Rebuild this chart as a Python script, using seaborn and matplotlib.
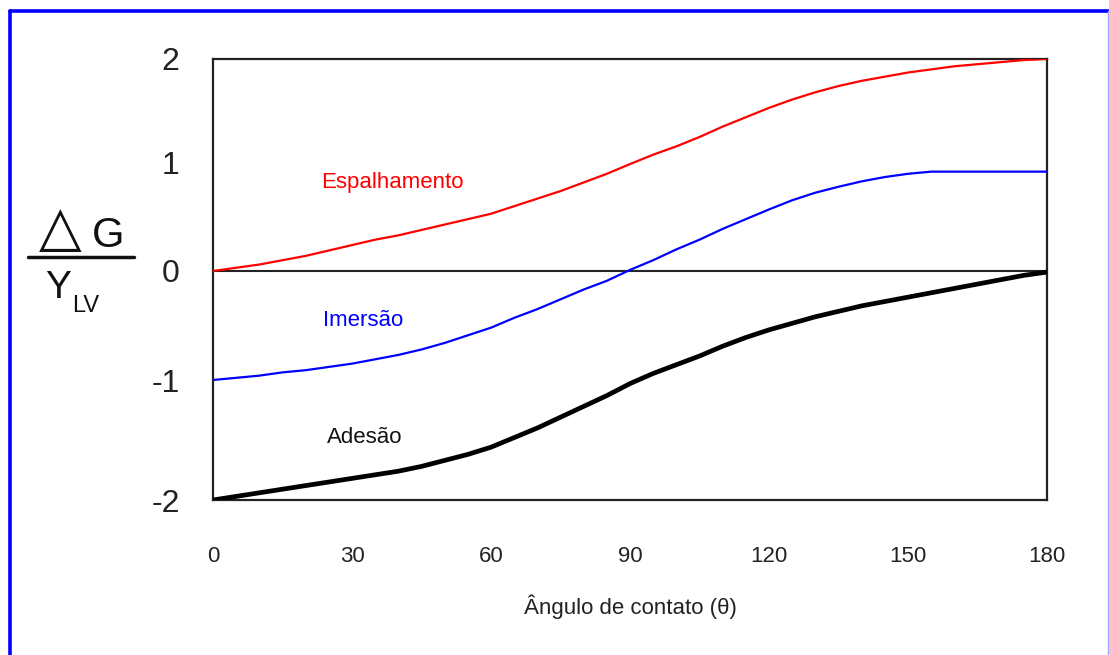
import numpy as np
import pandas as pd
import matplotlib
matplotlib.use("Agg")
import matplotlib.pyplot as plt
import seaborn as sns
from matplotlib.lines import Line2D

# ---- data ----
theta = [0, 5, 10, 15, 20, 25, 30, 35, 40, 45, 50, 55, 60, 65, 70, 75, 80, 85, 90,
         95, 100, 105, 110, 115, 120, 125, 130, 135, 140, 145, 150, 155, 160, 165, 170, 175, 180]
espalhamento = [0.0, 0.03, 0.06, 0.10, 0.14, 0.19, 0.24, 0.29, 0.33, 0.38, 0.43, 0.48, 0.53,
                0.60, 0.67, 0.74, 0.82, 0.90, 0.99, 1.08, 1.16, 1.25, 1.35, 1.44, 1.53,
                1.61, 1.68, 1.74, 1.79, 1.83, 1.87, 1.90, 1.93, 1.95, 1.97, 1.99, 2.0]
imersao = [-1.0, -0.98, -0.96, -0.93, -0.91, -0.88, -0.85, -0.81, -0.77, -0.72, -0.66, -0.59, -0.52,
           -0.43, -0.35, -0.26, -0.17, -0.09, 0.01, 0.10, 0.20, 0.29, 0.39, 0.48, 0.57,
           0.655, 0.725, 0.78, 0.83, 0.87, 0.90, 0.92, 0.92, 0.92, 0.92, 0.92, 0.92]
adesao = [-2.0, -1.97, -1.94, -1.91, -1.88, -1.85, -1.82, -1.79, -1.76, -1.72, -1.67, -1.62, -1.56,
          -1.48, -1.40, -1.31, -1.22, -1.13, -1.03, -0.94, -0.86, -0.78, -0.69, -0.61, -0.54,
          -0.48, -0.42, -0.37, -0.32, -0.28, -0.24, -0.20, -0.16, -0.12, -0.08, -0.04, -0.01]
x_ticks = [0, 30, 60, 90, 120, 150, 180]
y_ticks = [-2, -1, 0, 1, 2]
series_names = ["Espalhamento", "Imersão", "Adesão"]

# the reference's value axis is slightly uneven between ticks: reproduce it with a function scale
YV = np.array([-2.0, -1.0, 0.0, 1.0, 2.0])
YP = np.array([0.0, 120.0, 229.0, 337.0, 441.0])


def _pw(v, a, b):
    v = np.asarray(v, dtype=float)
    out = np.interp(v, a, b)
    lo = b[0] + (v - a[0]) * (b[1] - b[0]) / (a[1] - a[0])
    hi = b[-1] + (v - a[-1]) * (b[-1] - b[-2]) / (a[-1] - a[-2])
    out = np.where(v < a[0], lo, out)
    out = np.where(v > a[-1], hi, out)
    return out


def fwd(v):
    return _pw(v, YV, YP)


def inv(p):
    return _pw(p, YP, YV)


sns.set_style("white")
plt.rcParams['font.family'] = ['Liberation Sans', 'DejaVu Sans']

W, H = 1109, 655
fig = plt.figure(figsize=(W / 100, H / 100), dpi=100)
ax = fig.add_axes([213 / W, 1 - 500 / H, (1047 - 213) / W, (500 - 59) / H])
ax.set_yscale("function", functions=(fwd, inv))

ax.axhline(0, color="#222222", lw=1.5, zorder=1)
sns.lineplot(x=theta, y=espalhamento, ax=ax, color="#ff0000", lw=1.6, zorder=3)
sns.lineplot(x=theta, y=imersao, ax=ax, color="#0000ff", lw=1.6, zorder=3)
sns.lineplot(x=theta, y=adesao, ax=ax, color="#000000", lw=3.4, zorder=3)

ax.set_xlim(0, 180)
ax.set_ylim(-2, 2)
ax.set_xticks(x_ticks)
ax.set_yticks(y_ticks)
ax.yaxis.set_minor_locator(matplotlib.ticker.NullLocator())
ax.set_xticklabels([str(v) for v in x_ticks], fontsize=16)
ax.set_yticklabels([str(v) for v in y_ticks], fontsize=23)
ax.tick_params(axis="x", direction="out", length=6, width=1.2, pad=27, colors="#222222", labelcolor="#222222")
ax.tick_params(axis="y", direction="out", length=7, width=1.2, pad=17, colors="#222222", labelcolor="#222222")
ax.set_xlabel("Ângulo de contato (θ)", fontsize=16, color="#222222", labelpad=20)
ax.set_ylabel("")
for s in ax.spines.values():
    s.set_visible(True)
    s.set_color("#222222")
    s.set_linewidth(1.6)

# series labels
ax.text(38.8, 0.82, series_names[0], color="#ff0000", fontsize=16, ha="center", va="center")
ax.text(32.4, -0.45, series_names[1], color="#0000ff", fontsize=16, ha="center", va="center")
ax.text(32.8, -1.48, series_names[2], color="#111111", fontsize=16, ha="center", va="center")

# y label as fraction  ΔG / Y_LV
fig.text(60 / W, 1 - 230 / H, "△", fontsize=40, ha="center", va="center", color="#111111",
         family=["DejaVu Sans"])
fig.text(108 / W, 1 - 236 / H, "G", fontsize=30, ha="center", va="center", color="#111111")
fig.add_artist(Line2D([28 / W, 134 / W], [1 - 257 / H, 1 - 257 / H], color="#111111", lw=2.5,
                      transform=fig.transFigure))
fig.text(58 / W, 1 - 288 / H, "Y", fontsize=28, ha="center", va="center", color="#111111")
fig.text(86 / W, 1 - 306 / H, "LV", fontsize=17, ha="center", va="center", color="#111111")

# blue frame around the figure
fig.add_artist(Line2D([10 / W, 10 / W], [-0.01, 1 - 11 / H], color="#0000ff", lw=2.6, transform=fig.transFigure))
fig.add_artist(Line2D([10 / W, 1108 / W], [1 - 11 / H, 1 - 11 / H], color="#0000ff", lw=2.6, transform=fig.transFigure))
fig.add_artist(Line2D([1107.5 / W, 1107.5 / W], [-0.01, 1 - 11 / H], color="#9fa4ff", lw=1.0, transform=fig.transFigure))

fig.savefig("out.png", dpi=100, facecolor="white")
